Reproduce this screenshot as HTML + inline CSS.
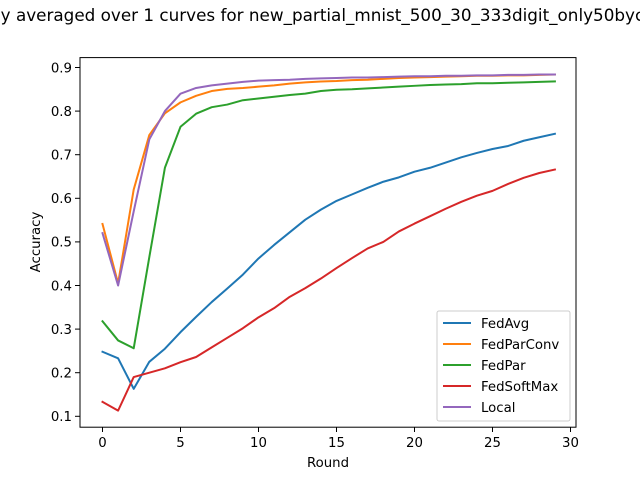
<!DOCTYPE html>
<html><head><meta charset="utf-8"><style>
body{margin:0;background:#fff;}
svg{display:block;font-family:"DejaVu Sans","Liberation Sans",sans-serif;}
</style></head><body>
<svg id="chart" width="640" height="480" viewBox="0 0 640 480">
<rect width="640" height="480" fill="#fff"/>
<text x="-66" y="21" text-anchor="start" font-size="16.8">Accuracy averaged over 1 curves for new_partial_mnist_500_30_333digit_only50byclass</text>
<g id="plot"></g>
<rect x="80" y="57.6" width="496" height="369.6" fill="none" stroke="#000" stroke-width="1"/>
<text x="328" y="467" text-anchor="middle" font-size="13.3">Round</text>
<text x="0" y="0" transform="translate(40,242) rotate(-90)" text-anchor="middle" font-size="13.3">Accuracy</text>
</svg>
<script>
const rounds=[0,1,2,3,4,5,6,7,8,9,10,11,12,13,14,15,16,17,18,19,20,21,22,23,24,25,26,27,28,29];
const fedAvg=[0.248,0.233,0.163,0.225,0.255,0.293,0.328,0.362,0.393,0.425,0.462,0.493,0.522,0.551,0.574,0.594,0.609,0.624,0.638,0.648,0.661,0.670,0.682,0.694,0.704,0.713,0.720,0.732,0.740,0.748];
const fedParConv=[0.541,0.405,0.620,0.745,0.795,0.820,0.835,0.846,0.851,0.853,0.856,0.859,0.863,0.866,0.868,0.869,0.871,0.872,0.874,0.876,0.877,0.878,0.879,0.880,0.881,0.881,0.882,0.882,0.883,0.884];
const fedPar=[0.318,0.274,0.256,0.465,0.670,0.764,0.794,0.809,0.815,0.825,0.829,0.833,0.837,0.840,0.846,0.849,0.850,0.852,0.854,0.856,0.858,0.860,0.861,0.862,0.864,0.864,0.865,0.866,0.867,0.868];
const fedSoftMax=[0.133,0.113,0.190,0.200,0.210,0.224,0.236,0.258,0.280,0.302,0.327,0.348,0.374,0.394,0.416,0.440,0.463,0.485,0.500,0.524,0.542,0.559,0.576,0.592,0.606,0.617,0.633,0.647,0.658,0.666];
const local=[0.520,0.400,0.570,0.735,0.800,0.840,0.853,0.859,0.863,0.867,0.870,0.871,0.872,0.874,0.875,0.876,0.877,0.877,0.878,0.879,0.880,0.880,0.881,0.881,0.882,0.882,0.883,0.883,0.884,0.884];
const seriesNames=["FedAvg","FedParConv","FedPar","FedSoftMax","Local"];
const xTicks=[0,5,10,15,20,25,30];
const yTicks=[0.1,0.2,0.3,0.4,0.5,0.6,0.7,0.8,0.9];

const NS="http://www.w3.org/2000/svg";
const g=document.getElementById('plot');
const X=v=>102.5+v*15.6;
const Y=v=>416.3-(v-0.1)*436;
function mk(t,a){const e=document.createElementNS(NS,t);for(const k in a)e.setAttribute(k,a[k]);return e;}
xTicks.forEach(t=>{
  const l=mk('line',{x1:X(t),x2:X(t),y1:427.2,y2:432,stroke:'#000','stroke-width':1});
  
  
  g.appendChild(l);
  const tx=mk('text',{x:X(t),y:447,'text-anchor':'middle','font-size':13.3});
  tx.textContent=t;
  
  
  g.appendChild(tx);
});
yTicks.forEach(t=>{
  const l=mk('line',{x1:75,x2:80,y1:Y(t),y2:Y(t),stroke:'#000','stroke-width':1});
  
  
  g.appendChild(l);
  const tx=mk('text',{x:72,y:Y(t)+4.8,'text-anchor':'end','font-size':13.3});
  tx.textContent=t.toFixed(1);
  
  
  g.appendChild(tx);
});
const data=[fedAvg,fedParConv,fedPar,fedSoftMax,local];
const colors=['#1f77b4','#ff7f0e','#2ca02c','#d62728','#9467bd'];
data.forEach((s,i)=>{
  const p=mk('polyline',{points:s.map((v,j)=>X(rounds[j])+','+Y(v)).join(' '),fill:'none',stroke:colors[i],'stroke-width':2,'stroke-linejoin':'round','stroke-linecap':'square'});
  
  
  g.appendChild(p);
});
const lg=mk('g',{});


lg.appendChild(mk('rect',{x:437,y:311,width:133,height:110,rx:2,fill:'#fff','fill-opacity':0.8,stroke:'#ccc','stroke-width':1}));
seriesNames.forEach((n,i)=>{
  const yy=323+i*21;
  const e=mk('g',{});
  
  
  e.appendChild(mk('line',{x1:443,x2:471,y1:yy,y2:yy,stroke:colors[i],'stroke-width':2}));
  const t=mk('text',{x:481,y:yy+4.8,'font-size':13.3});
  t.textContent=n;
  e.appendChild(t);
  lg.appendChild(e);
});
g.appendChild(lg);
</script>
</body></html>
